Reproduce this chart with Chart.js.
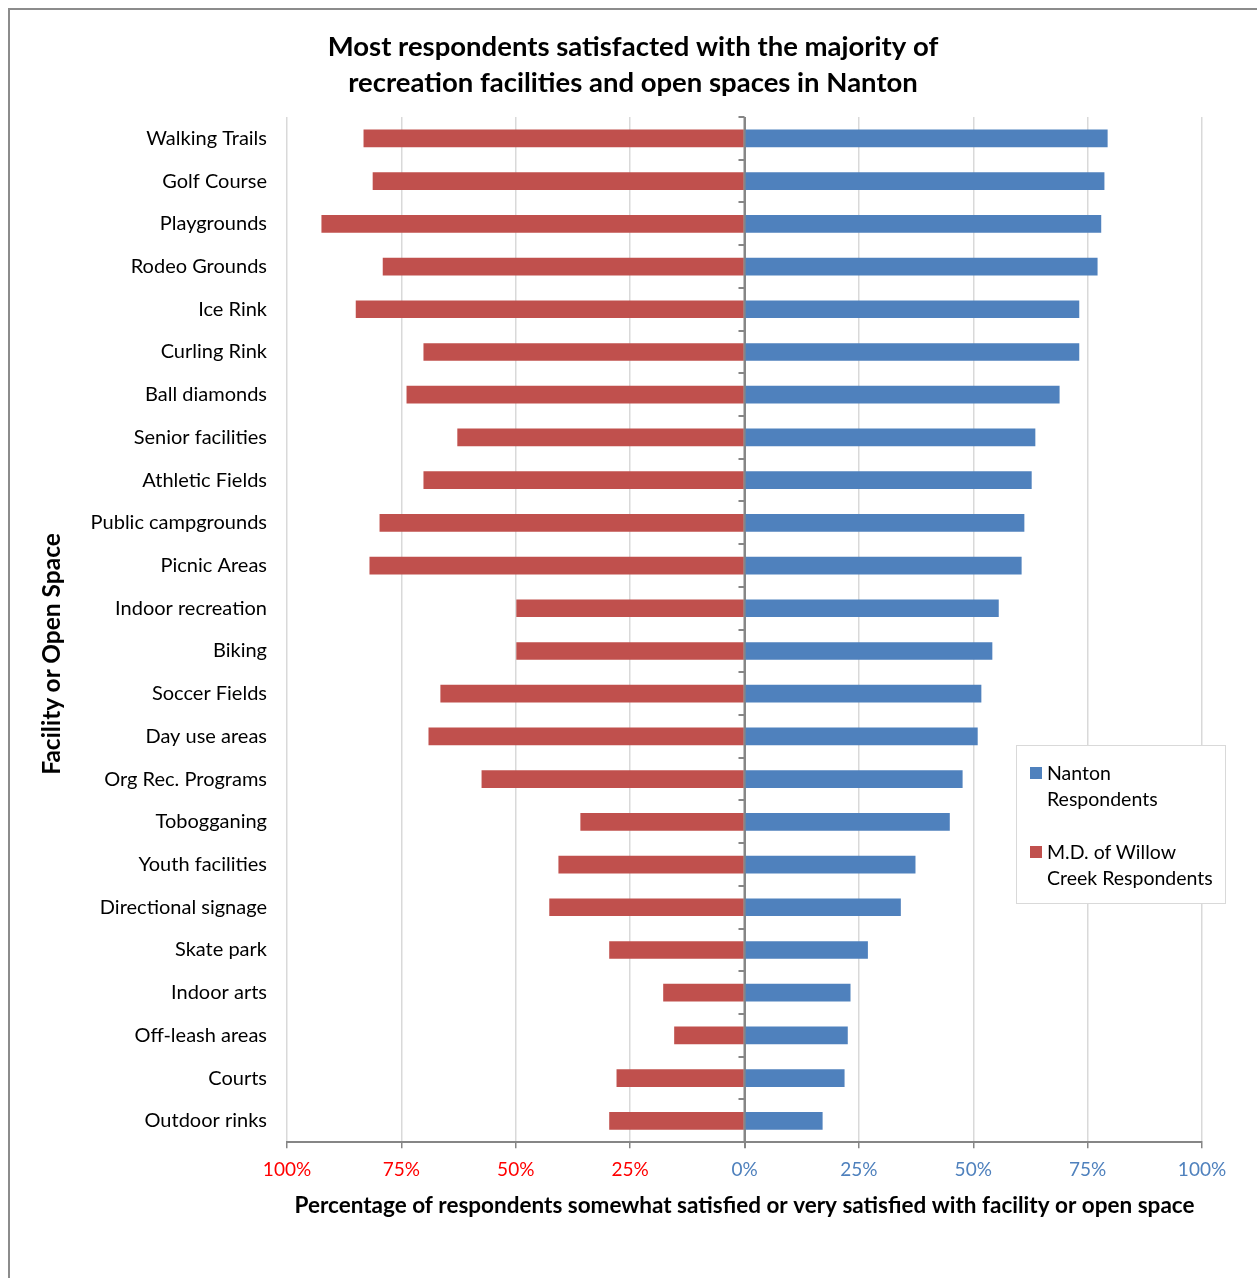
<!DOCTYPE html>
<html><head><meta charset="utf-8">
<script src="https://cdn.jsdelivr.net/npm/chart.js@4"></script>
<style>
html,body{margin:0;padding:0;background:#fff;}
#wrap{position:relative;width:1257px;height:1278px;overflow:hidden;background:#fff;}
canvas{position:absolute;left:0;top:0;}
#frame{position:absolute;left:8px;top:8px;width:1400px;height:1400px;border:2px solid #8c8c8c;box-sizing:border-box;pointer-events:none;}
#ytitle{position:absolute;left:50px;top:654px;transform:translate(-50%,-50%) rotate(-90deg);font:bold 24.5px Lato;white-space:nowrap;color:#000;}
#legend{position:absolute;left:1016px;top:745px;width:210px;height:159px;border:1px solid #d9d9d9;box-sizing:border-box;background:#fff;font:19.5px Lato;color:#000;}
.li{position:absolute;left:13px;line-height:26px;}
.sw{position:absolute;left:0;top:7px;width:12px;height:12px;}
.lt{margin-left:17px;}
</style></head>
<body>
<div id="wrap">
<canvas id="c" width="1257" height="1278"></canvas>
<div id="frame"></div>
<div id="ytitle"></div>
<div id="legend"></div>
</div>
<script>
const categories = ["Walking Trails","Golf Course","Playgrounds","Rodeo Grounds","Ice Rink","Curling Rink","Ball diamonds","Senior facilities","Athletic Fields","Public campgrounds","Picnic Areas","Indoor recreation","Biking","Soccer Fields","Day use areas","Org Rec. Programs","Tobogganing","Youth facilities","Directional signage","Skate park","Indoor arts","Off-leash areas","Courts","Outdoor rinks"];
const nantonValues = [79.3,78.6,77.9,77.1,73.1,73.1,68.8,63.5,62.7,61.1,60.5,55.5,54.1,51.7,50.9,47.6,44.8,37.3,34.1,26.9,23.1,22.5,21.8,17.0];
const mdValues = [83.2,81.2,92.4,79.0,84.9,70.1,73.8,62.7,70.1,79.7,81.9,49.8,49.8,66.4,69.0,57.4,35.8,40.6,42.6,29.5,17.7,15.3,27.9,29.5];
const seriesNames = [["Nanton","Respondents"],["M.D. of Willow","Creek Respondents"]];
const seriesColors = ["#4f81bd","#c0504d"];
const titleLines = ["Most respondents satisfacted with the majority of","recreation facilities and open spaces in Nanton"];
const xTitle = "Percentage of respondents somewhat satisfied or very satisfied with facility or open space";
const yTitle = "Facility or Open Space";
const xTicks = [-100,-75,-50,-25,0,25,50,75,100];

document.getElementById('ytitle').textContent = yTitle;
const leg = document.getElementById('legend');
const legTops = [14, 93];
seriesNames.forEach((n,i)=>{
  const d = document.createElement('div'); d.className='li'; d.style.top = legTops[i]+'px';
  const s = document.createElement('div'); s.className='sw'; s.style.background = seriesColors[i];
  d.appendChild(s);
  n.forEach(t=>{const l=document.createElement('div'); l.className='lt'; l.textContent=t; d.appendChild(l);});
  leg.appendChild(d);
});

const zeroPlugin = {
  id:'zeroPlugin',
  afterDatasetsDraw(chart){
    const ctx = chart.ctx, x = chart.scales.x, y = chart.scales.y;
    const x0 = x.getPixelForValue(0);
    ctx.save();
    ctx.strokeStyle = '#868686';
    ctx.lineWidth = 2;
    ctx.beginPath();
    ctx.moveTo(x0, chart.chartArea.top);
    ctx.lineTo(x0, chart.chartArea.bottom);
    for(let i=0;i<=categories.length;i++){
      const py = Math.round(y.getPixelForValue(i-0.5));
      ctx.moveTo(x0-6, py); ctx.lineTo(x0, py);
    }
    ctx.stroke();
    ctx.restore();
  }
};

new Chart(document.getElementById('c'), {
  type:'bar',
  data:{
    labels: categories,
    datasets:[
      {label: seriesNames[0].join(' '), data: nantonValues, backgroundColor: seriesColors[0], barThickness:17, borderWidth:0},
      {label: seriesNames[1].join(' '), data: mdValues.map(v=>-v), backgroundColor: seriesColors[1], barThickness:17, borderWidth:0}
    ]
  },
  options:{
    indexAxis:'y',
    responsive:false,
    animation:false,
    layout:{padding:{left:64,right:55,top:20,bottom:59}},
    plugins:{
      legend:{display:false},
      tooltip:{enabled:false},
      title:{display:true,text:titleLines,color:'#000',font:{family:'Lato',size:27.5,weight:'bold',lineHeight:1.31},padding:{top:9,bottom:16}}
    },
    scales:{
      x:{
        min:-100,max:100,stacked:true,
        afterBuildTicks:s=>{s.ticks = xTicks.map(v=>({value:v}));},
        ticks:{callback:v=>Math.abs(v)+'%',color:c=>(c.tick && c.tick.value<0)?'#ff0000':'#4f81bd',font:{family:'Lato',size:19},padding:10,maxRotation:0,autoSkip:false},
        grid:{color:c=>(c.tick && c.tick.value===0)?'#868686':'#d9d9d9',lineWidth:c=>(c.tick && c.tick.value===0)?2:1.5,tickColor:'#868686',tickLength:6},
        border:{color:'#868686',width:2},
        title:{display:true,text:xTitle,color:'#000',font:{family:'Lato',size:22.5,weight:'bold'},padding:{top:1,bottom:0}}
      },
      y:{
        stacked:true,
        grid:{display:false,drawTicks:false},
        border:{display:false},
        ticks:{color:'#000',font:{family:'Lato',size:20},padding:20,autoSkip:false},
        afterFit:s=>{s.width=223;}
      }
    }
  },
  plugins:[zeroPlugin]
});
</script>
</body></html>
